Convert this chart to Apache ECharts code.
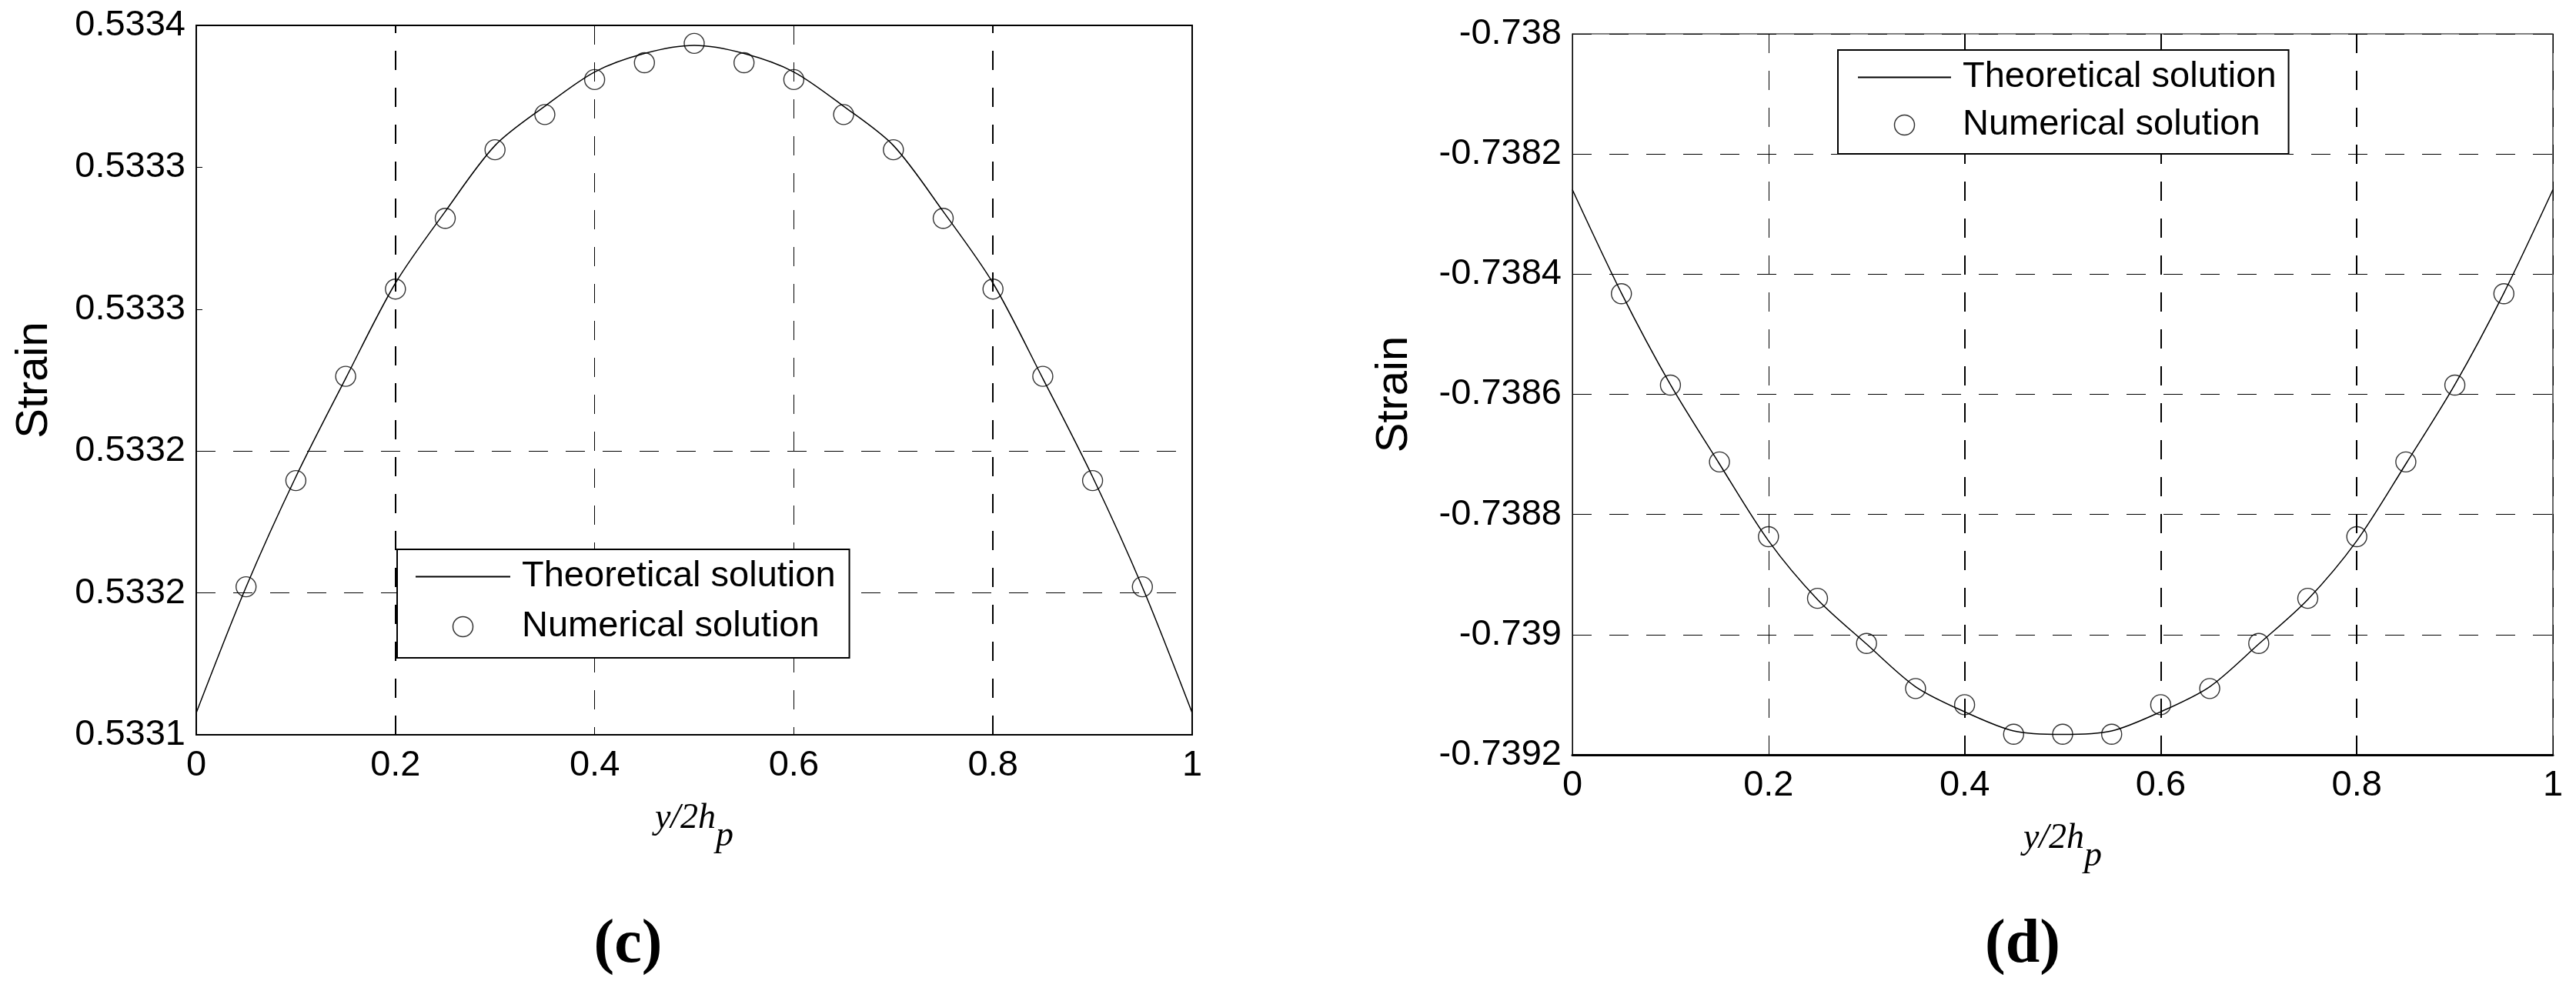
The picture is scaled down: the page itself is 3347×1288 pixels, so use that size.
<!DOCTYPE html>
<html>
<head>
<meta charset="utf-8">
<script src="https://cdn.jsdelivr.net/npm/echarts@6/dist/echarts.min.js"></script>
<style>
html,body{margin:0;padding:0;background:#fff;}
#chart{width:3347px;height:1288px;}
</style>
</head>
<body>
<div id="chart"></div>
<script>
// ---------- data ----------
const xTheory = [0,0.05,0.1,0.15,0.2,0.25,0.3,0.35,0.4,0.45,0.5,0.55,0.6,0.65,0.7,0.75,0.8,0.85,0.9,0.95,1];
const xNumerical = [0.05,0.1,0.15,0.2,0.25,0.3,0.35,0.4,0.45,0.5,0.55,0.6,0.65,0.7,0.75,0.8,0.85,0.9,0.95];

// panel (c)
const strainC_theory = [0.5331093,0.5331625,0.5332091,0.5332507,0.5332910,0.5333213,0.5333492,0.5333658,0.5333803,0.5333881,0.5333915,
                        0.5333881,0.5333803,0.5333658,0.5333492,0.5333213,0.5332910,0.5332507,0.5332091,0.5331625,0.5331093];
const strainC_numerical = [0.5331626,0.5332075,0.5332516,0.5332885,0.5333184,0.5333474,0.5333623,0.5333771,0.5333842,0.5333924,
                           0.5333842,0.5333771,0.5333623,0.5333474,0.5333184,0.5332885,0.5332516,0.5332075,0.5331626];

// panel (d)
const strainD_theory = [-0.7382594,-0.7384314,-0.7385839,-0.7387159,-0.7388438,-0.7389415,-0.7390156,-0.7390867,-0.7391284,-0.7391603,-0.7391662,
                        -0.7391603,-0.7391284,-0.7390867,-0.7390156,-0.7389415,-0.7388438,-0.7387159,-0.7385839,-0.7384314,-0.7382594];
const strainD_numerical = [-0.7384326,-0.7385846,-0.7387125,-0.7388370,-0.7389396,-0.7390146,-0.7390897,-0.7391166,-0.7391657,-0.7391657,
                           -0.7391657,-0.7391166,-0.7390897,-0.7390146,-0.7389396,-0.7388370,-0.7387125,-0.7385846,-0.7384326];

// axis settings
const xAxisRange = {min: 0, max: 1, interval: 0.2};
const yAxisRangeC = {min: 0.5331, max: 0.5334, interval: 0.00006};
const yAxisRangeD = {min: -0.7392, max: -0.738, interval: 0.0002};

const seriesNames = ['Theoretical solution', 'Numerical solution'];
const xAxisTitle = '{a|y/2h}{b|p}';
const yAxisTitle = 'Strain';
const panelLabels = ['(c)', '(d)'];

// ---------- helpers ----------
const SANS = "'Liberation Sans', Arial, Helvetica, sans-serif";
const SERIF = "'Liberation Serif', 'Times New Roman', serif";
const DASH = [25, 23];

function pairs(xs, ys) { return xs.map((x, i) => [x, ys[i]]); }

function xAxisOpt(gridIndex, lineW, darkIdx) {
  const cols = [];
  for (let i = 0; i < 6; i++) cols.push(darkIdx.indexOf(i) >= 0 ? 'rgba(0,0,0,0)' : '#000');
  return {
    type: 'value', gridIndex,
    min: xAxisRange.min, max: xAxisRange.max, interval: xAxisRange.interval,
    name: xAxisTitle, nameLocation: 'middle', nameGap: 86,
    nameTextStyle: {
      rich: {
        a: {fontFamily: SERIF, fontStyle: 'italic', fontSize: 46, lineHeight: 46, verticalAlign: 'top', color: '#000'},
        b: {fontFamily: SERIF, fontStyle: 'italic', fontSize: 46, lineHeight: 46, verticalAlign: 'top', color: '#000', padding: [23, 0, 0, 0]}
      }
    },
    axisLine: {show: true, onZero: false, lineStyle: {color: '#000', width: lineW}},
    axisTick: {show: false},
    axisLabel: {color: '#000', fontSize: 47, fontFamily: SANS, margin: 17,
      formatter: v => String(parseFloat(v.toFixed(4)))},
    splitLine: {show: true, lineStyle: {color: cols, type: DASH, width: 1}}
  };
}

function yAxisOpt(gridIndex, range, gap, fmt, tickLen, lineW, darkIdx, nCount) {
  const cols = [];
  for (let i = 0; i < nCount; i++) cols.push(darkIdx.indexOf(i) >= 0 ? 'rgba(0,0,0,0)' : '#000');
  return {
    type: 'value', gridIndex,
    min: range.min, max: range.max, interval: range.interval,
    name: yAxisTitle, nameLocation: 'middle', nameGap: gap,
    nameTextStyle: {color: '#000', fontSize: 58, fontFamily: SANS},
    axisLine: {show: true, onZero: false, lineStyle: {color: '#000', width: lineW}},
    axisTick: {show: true, inside: true, length: tickLen, lineStyle: {color: '#000', width: 1}},
    axisLabel: {color: '#000', fontSize: 47, fontFamily: SANS, margin: 14, formatter: fmt},
    splitLine: {show: true, lineStyle: {color: cols, type: DASH, width: 1}}
  };
}

function legendOpt(left, top, pad, itemW, gap) {
  return {
    orient: 'vertical', left, top, padding: pad, z: 20,
    itemWidth: itemW, itemHeight: 26, itemGap: gap,
    backgroundColor: '#fff', borderColor: '#000', borderWidth: 2, borderRadius: 0,
    textStyle: {color: '#000', fontSize: 47, fontFamily: SANS, padding: [0, 0, 0, 10]},
    data: [
      {name: seriesNames[0], itemStyle: {color: 'rgba(0,0,0,0)', borderColor: 'rgba(0,0,0,0)', borderWidth: 0}},
      {name: seriesNames[1], itemStyle: {color: 'rgba(0,0,0,0)', borderColor: '#000', borderWidth: 1.5}}
    ]
  };
}

function darkLines(xs, ys) {
  const d = [];
  xs.forEach(v => d.push({xAxis: v}));
  ys.forEach(v => d.push({yAxis: v}));
  return {
    silent: true, symbol: ['none', 'none'], animation: false, z: 2,
    label: {show: false},
    lineStyle: {color: '#000', type: DASH, width: 2},
    emphasis: {disabled: true},
    data: d
  };
}

const chart = echarts.init(document.getElementById('chart'), null, {renderer: 'canvas'});

const option = {
  backgroundColor: '#fff',
  animation: false,
  grid: [
    {left: 255, top: 33, width: 1294, height: 922, show: true, borderColor: '#000', borderWidth: 2, backgroundColor: 'rgba(0,0,0,0)', containLabel: false},
    {left: 2043, top: 44, width: 1274, height: 937, show: true, borderColor: '#000', borderWidth: 1.2, backgroundColor: 'rgba(0,0,0,0)', containLabel: false}
  ],
  xAxis: [
    xAxisOpt(0, 2, [1, 4]),
    xAxisOpt(1, 3, [2, 3, 4])
  ],
  yAxis: [
    yAxisOpt(0, yAxisRangeC, 181, v => v.toFixed(4), 8, 2, [3, 4], 6),
    yAxisOpt(1, yAxisRangeD, 202, v => String(parseFloat(v.toFixed(4))), 15, 1, [], 7)
  ],
  legend: [
    legendOpt(516, 714, [12, 18, 17, 23], 123, 18),
    legendOpt(2388, 65, [12, 16, 14, 25], 121, 15)
  ],
  series: [
    {
      name: seriesNames[0], type: 'line', xAxisIndex: 0, yAxisIndex: 0,
      data: pairs(xTheory, strainC_theory), smooth: 0.3,
      symbol: 'none', showSymbol: false, z: 3,
      lineStyle: {color: '#000', width: 1.5},
      itemStyle: {color: '#000'},
      markLine: darkLines([0.2, 0.8], [0.53328, 0.53334])
    },
    {
      name: seriesNames[1], type: 'scatter', xAxisIndex: 0, yAxisIndex: 0,
      data: pairs(xNumerical, strainC_numerical),
      symbol: 'circle', symbolSize: 26,
      itemStyle: {color: 'rgba(0,0,0,0)', borderColor: '#000', borderWidth: 1.4}
    },
    {
      name: seriesNames[0], type: 'line', xAxisIndex: 1, yAxisIndex: 1,
      data: pairs(xTheory, strainD_theory), smooth: 0.3,
      symbol: 'none', showSymbol: false, z: 3,
      lineStyle: {color: '#000', width: 1.5},
      itemStyle: {color: '#000'},
      markLine: darkLines([0.4, 0.6, 0.8], [])
    },
    {
      name: seriesNames[1], type: 'scatter', xAxisIndex: 1, yAxisIndex: 1,
      data: pairs(xNumerical, strainD_numerical),
      symbol: 'circle', symbolSize: 26,
      itemStyle: {color: 'rgba(0,0,0,0)', borderColor: '#000', borderWidth: 1.4}
    }
  ],
  graphic: [
    {type: 'text', x: 816, y: 1229, silent: true,
     style: {text: panelLabels[0], fontSize: 80, fontWeight: 'bold', fontFamily: SERIF, fill: '#000', align: 'center', verticalAlign: 'middle'}},
    {type: 'text', x: 2628, y: 1229, silent: true,
     style: {text: panelLabels[1], fontSize: 80, fontWeight: 'bold', fontFamily: SERIF, fill: '#000', align: 'center', verticalAlign: 'middle'}}
  ]
};

chart.setOption(option);
</script>
</body>
</html>
